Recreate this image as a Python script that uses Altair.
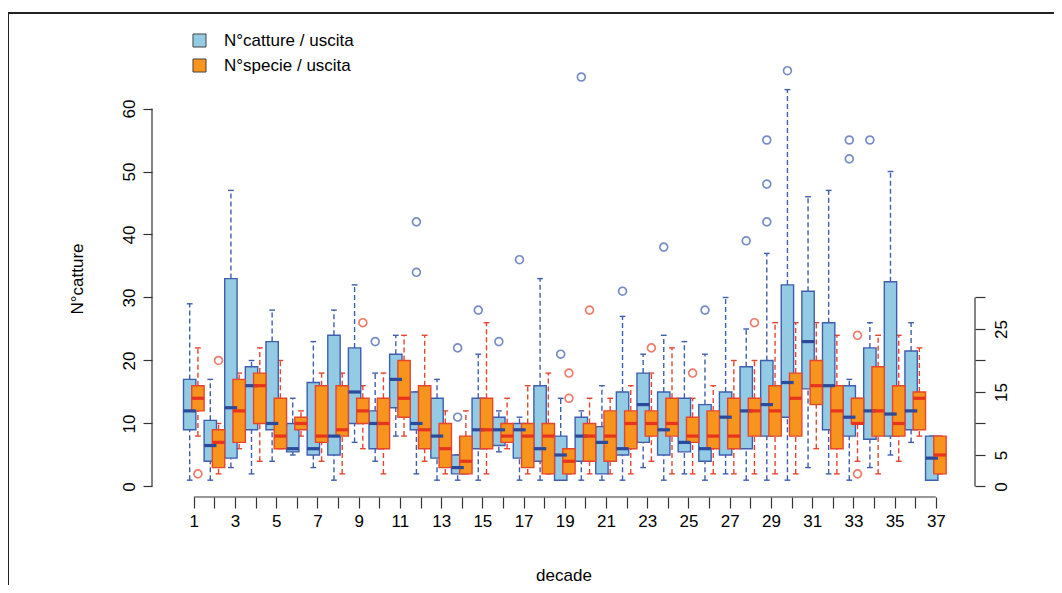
import altair as alt
import pandas as pd

# ---------------- data ----------------
decades = list(range(1, 38))
series = ["N°catture / uscita", "N°specie / uscita"]

catture_lo = [1, 1, 3, 2, 4, 5, 3, 1, 7, 4, 8, 2, 1, 1, 1, 5.5, 1, 1, 1, 1,
              1, 1, 3, 1, 2, 1, 2, 1, 1, 1, 3, 2, 1, 3, 5, 7, 1]
catture_q1 = [9, 4, 4.5, 9, 9, 5.5, 5, 5, 10, 6, 12.5, 9, 4.5, 2, 6, 6.5, 4.5, 4, 1, 4,
              2, 5, 7, 5, 5.5, 4, 5, 6, 8, 11, 15.5, 9, 8, 7.5, 8, 9, 1]
catture_med = [12, 6.5, 12.5, 16, 10, 6, 6, 8, 15, 10, 17, 10, 8, 3, 9, 9, 9, 6, 5, 8,
               7, 6, 13, 9, 7, 6, 11, 12, 13, 16.5, 23, 16, 11, 12, 11.5, 12, 4.5]
catture_q3 = [17, 10.5, 33, 19, 23, 10, 16.5, 24, 22, 12, 21, 15, 14, 5, 14, 11, 10, 16, 8, 11,
              9.5, 15, 18, 15, 14, 13, 15, 19, 20, 32, 31, 26, 16, 22, 32.5, 21.5, 8]
catture_hi = [29, 17, 47, 20, 28, 14, 23, 28, 32, 18, 24, 15, 17, 5, 21, 12, 11, 33, 14, 12,
              16, 27, 21, 24, 23, 21, 30, 25, 37, 63, 46, 47, 17, 26, 50, 26, 8]

specie_lo = [8, 2, 6, 4, 6, 8, 4, 2, 6, 2, 8, 4, 2, 2, 2, 6, 2, 2, 2, 2,
             2, 2, 4, 2, 2, 2, 2, 2, 2, 2, 6, 2, 4, 2, 4, 8, 2]
specie_q1 = [12, 3, 7, 10, 6, 9, 7, 8, 10, 6, 11, 6, 3, 2, 6, 7, 3, 2, 2, 4,
             4, 6, 8, 8, 7, 6, 6, 8, 8, 8, 13, 6, 10, 8, 8, 9, 2]
specie_med = [14, 7, 12, 16, 8, 10, 8, 9, 12, 10, 14, 9, 6, 4, 9, 8, 8, 8, 4, 8,
              8, 10, 10, 10, 8, 8, 8, 12, 12, 14, 16, 12, 10, 12, 10, 14, 5]
specie_q3 = [16, 9, 17, 18, 14, 11, 16, 16, 14, 14, 20, 16, 10, 8, 14, 10, 10, 10, 6, 10,
             12, 12, 12, 14, 11, 12, 14, 14, 16, 18, 20, 16, 14, 19, 16, 15, 8]
specie_hi = [22, 10, 18, 22, 20, 12, 18, 18, 16, 18, 24, 24, 12, 12, 26, 14, 16, 18, 6, 14,
             14, 16, 18, 22, 14, 16, 20, 20, 26, 26, 26, 24, 14, 24, 24, 22, 8]

catture_out_decade = [10, 12, 12, 14, 14, 15, 16, 17, 19, 20, 22, 24, 26, 28, 29, 29, 29, 30, 33, 33, 34]
catture_out_value = [23, 42, 34, 22, 11, 28, 23, 36, 21, 65, 31, 38, 28, 39, 55, 48, 42, 66, 55, 52, 55]
specie_out_decade = [1, 2, 9, 19, 19, 20, 23, 25, 28, 33, 33]
specie_out_value = [2, 20, 26, 18, 14, 28, 22, 18, 26, 24, 2]

x_axis_span = [1, 37]
y_left_span = [0, 60]
y_right_span = [0, 30]
y_left_ticks = [0, 10, 20, 30, 40, 50, 60]
y_right_ticks = [0, 5, 10, 15, 20, 25, 30]
y_right_labels = [0, 5, 15, 25]

# ---------------- tables ----------------
rows = []
for s, lo, q1, md, q3, hi in [
    (series[0], catture_lo, catture_q1, catture_med, catture_q3, catture_hi),
    (series[1], specie_lo, specie_q1, specie_med, specie_q3, specie_hi),
]:
    for i, d in enumerate(decades):
        rows.append(dict(decade=d, serie=s, lo=lo[i], q1=q1[i], med=md[i], q3=q3[i], hi=hi[i]))
box_df = pd.DataFrame(rows)

orows = []
for s, ds, vs in [(series[0], catture_out_decade, catture_out_value),
                  (series[1], specie_out_decade, specie_out_value)]:
    for d, v in zip(ds, vs):
        orows.append(dict(decade=d, serie=s, value=v))
out_df = pd.DataFrame(orows)

# ---------------- style ----------------
W, H = 823, 437
FONT = "Liberation Sans"
BLUE_FILL, ORANGE_FILL = "#93cbe4", "#f7941d"
BLUE_LINE, RED_LINE = "#3f5eae", "#e8452e"
BLUE_MED, RED_MED = "#2b4a9c", "#e8341c"
AX = "#333333"

xscale = alt.Scale(domain=[-1.028, 38.9], nice=False, zero=False)
yscale = alt.Scale(domain=[-1.67, 67.7], nice=False, zero=False)

xaxis = alt.Axis(values=decades, labelExpr="datum.value % 2 == 1 ? datum.label : ''",
                 title="decade", domain=False, grid=False, tickSize=11, tickColor=AX,
                 tickWidth=1.2, labelPadding=5, labelFontSize=17, labelColor="black",
                 labelFont=FONT, titleFont=FONT, titleFontSize=17, titleFontWeight="normal",
                 titleColor="black", titlePadding=38, labelFlush=False, labelOverlap=False)
yaxis = alt.Axis(values=y_left_ticks, title="N°catture", domain=False, grid=False,
                 tickSize=9, tickColor=AX, tickWidth=1.2, labelAngle=-90, labelAlign="center",
                 labelBaseline="bottom", labelPadding=5, labelFontSize=17, labelColor="black",
                 labelFont=FONT, titleFont=FONT, titleFontSize=17, titleFontWeight="normal",
                 titleColor="black", titlePadding=34, labelOverlap=False)
raxis = alt.Axis(orient="right", values=y_right_ticks,
                 labelExpr="indexof(" + str(y_right_labels) + ", datum.value) >= 0 ? datum.label : ''",
                 title=None, domain=False, grid=False, tickSize=10, tickColor=AX, tickWidth=1.2,
                 labelAngle=-90, labelAlign="center", labelBaseline="top", labelPadding=8,
                 labelFontSize=17, labelColor="black", labelFont=FONT, labelOverlap=False)


def X(f):
    return alt.X(f, type="quantitative", scale=xscale, axis=xaxis)


def Y(f):
    return alt.Y(f, type="quantitative", scale=yscale, axis=yaxis)


# stroke / colour scales take their domain from the data (sorted: catture, specie),
# so they are not merged with the (explicit-domain) fill legend
stroke_enc = alt.Stroke("serie:N", scale=alt.Scale(range=[BLUE_LINE, RED_LINE]), legend=None)
med_enc = alt.Color("serie:N", scale=alt.Scale(range=[BLUE_MED, RED_MED]), legend=None)
fill_enc = alt.Fill("serie:N", scale=alt.Scale(domain=series, range=[BLUE_FILL, ORANGE_FILL]),
                    legend=alt.Legend(orient="none", legendX=39, legendY=-28, title=None,
                                      symbolType="square", symbolSize=170,
                                      symbolStrokeColor="#444", symbolStrokeWidth=1,
                                      symbolOpacity=1,
                                      labelFontSize=17, labelFont=FONT, labelColor="black",
                                      labelOffset=16, rowPadding=6, padding=0))

base = alt.Chart(box_df).transform_calculate(
    pos="datum.decade + (indexof(datum.serie, 'catture') >= 0 ? -0.2 : 0.2)"
).transform_calculate(
    xa="datum.pos - 0.3", xb="datum.pos + 0.3", sa="datum.pos - 0.14", sb="datum.pos + 0.14"
)

wh_lo = base.mark_rule(strokeDash=[5, 3], strokeWidth=1.4).encode(
    x=X("pos"), y=Y("lo"), y2="q1:Q", stroke=stroke_enc)
wh_hi = base.mark_rule(strokeDash=[5, 3], strokeWidth=1.4).encode(
    x=X("pos"), y=Y("q3"), y2="hi:Q", stroke=stroke_enc)
st_lo = base.mark_rule(strokeWidth=1.4).encode(
    x=X("sa"), x2="sb:Q", y=Y("lo"), stroke=stroke_enc)
st_hi = base.mark_rule(strokeWidth=1.4).encode(
    x=X("sa"), x2="sb:Q", y=Y("hi"), stroke=stroke_enc)
boxes = base.mark_rect(strokeWidth=1.4).encode(
    x=X("xa"), x2="xb:Q", y=Y("q1"), y2="q3:Q", fill=fill_enc, stroke=stroke_enc)
meds = base.mark_rule(strokeWidth=3.2).encode(
    x=X("xa"), x2="xb:Q", y=Y("med"), color=med_enc)

outs = alt.Chart(out_df).transform_calculate(
    pos="datum.decade + (indexof(datum.serie, 'catture') >= 0 ? -0.2 : 0.2)"
).mark_point(shape="circle", filled=False, size=62, strokeWidth=1.7).encode(
    x=X("pos"), y=Y("value"), stroke=stroke_enc)

span_df = pd.DataFrame({"xa": [x_axis_span[0]], "xb": [x_axis_span[1]],
                        "ya": [y_left_span[0]], "yb": [y_left_span[1]],
                        "ra": [y_right_span[0]], "rb": [y_right_span[1]]})
x_dom = alt.Chart(span_df).mark_rule(color=AX, strokeWidth=1.2).encode(
    x=X("xa"), x2="xb:Q", y=alt.value(H))
y_dom = alt.Chart(span_df).mark_rule(color=AX, strokeWidth=1.2).encode(
    x=alt.value(0), y=Y("ya"), y2="yb:Q")

frame_top = alt.Chart(span_df).mark_rule(color="#222", strokeWidth=2).encode(
    x=alt.value(-144), x2=alt.value(W + 90), y=alt.value(-47))
frame_left = alt.Chart(span_df).mark_rule(color="#222", strokeWidth=2).encode(
    x=alt.value(-144), y=alt.value(-47), y2=alt.value(H + 120))

main = alt.layer(frame_top, frame_left, wh_lo, wh_hi, st_lo, st_hi, boxes, meds, outs,
                 x_dom, y_dom)

right = alt.Chart(span_df).mark_rule(color=AX, strokeWidth=1.2).encode(
    x=alt.value(W),
    y=alt.Y("ra:Q", scale=yscale, axis=raxis),
    y2="rb:Q")

chart = alt.layer(main, right).resolve_scale(y="independent").properties(
    width=W, height=H,
    padding={"left": 144, "top": 52, "right": 79, "bottom": 88},
    autosize=alt.AutoSizeParams(type="none"),
    background="white",
).configure_view(stroke=None)

chart.save("out.html", embed_options={"renderer": "svg", "actions": False})
